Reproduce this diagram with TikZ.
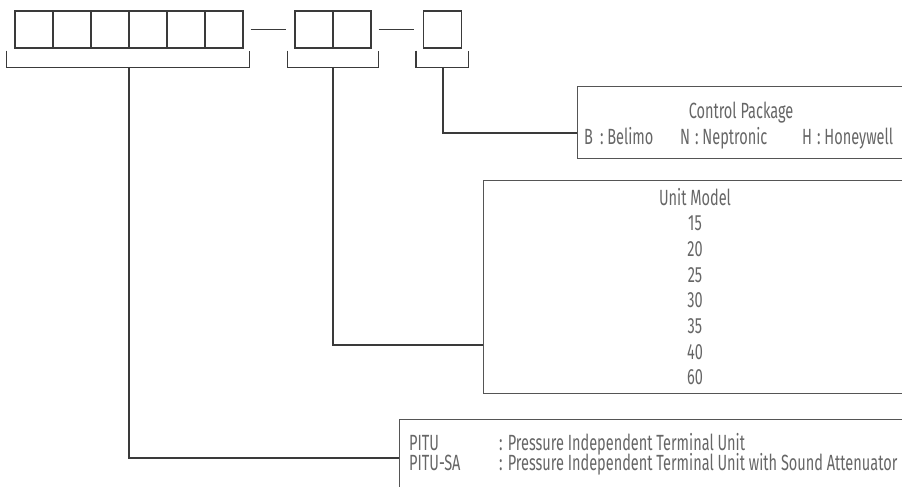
\documentclass[tikz,border=0pt]{standalone}
\usepackage{fontspec}
\setmainfont{Fira Sans}[FakeStretch=0.66]
\usetikzlibrary{calc,positioning}
\definecolor{linegray}{HTML}{3A3A3A}
\definecolor{boxgray}{HTML}{555555}
\definecolor{textgray}{HTML}{666666}

\begin{document}
\begin{tikzpicture}[x=1pt, y=-1pt,
  cell/.style={draw=linegray, line width=1.1pt, minimum width=38pt, minimum height=37pt, inner sep=0pt},
  wire/.style={draw=linegray, line width=1.1pt},
  infobox/.style={draw=boxgray, line width=1.4pt, anchor=north west, inner sep=0pt},
  txt/.style={text=textgray, font=\fontsize{22}{26}\selectfont, inner sep=0pt, anchor=base}]
\path[use as bounding box] (0,0) rectangle (902,487);
\clip (0,0) rectangle (902,487);

% code cells
\foreach \i in {1,...,6}
  \node[cell] (c\i) at ({38*\i-4},29.5) {};
\node[cell] (d1) at (314,29.5) {};
\node[cell] (d2) at (352,29.5) {};
\node[cell] (e1) at (442.5,29.5) {};

\draw[wire, shorten <=7pt, shorten >=8pt] (c6.east) -- (d1.west);
\draw[wire, shorten <=7pt, shorten >=8.5pt] (d2.east) -- (e1.west);

% brackets
\draw[wire] ($(c1.south west)+(-8,2)$) -- ++(0,17) -| ($(c6.south east)+(6,2)$);
\draw[wire] ($(d1.south west)+(-7,2)$) -- ++(0,17) -| ($(d2.south east)+(7,2)$);
\draw[wire] ($(e1.south west)+(-7,2)$) -- ++(0,17) -| ($(e1.south east)+(6,2)$);
\coordinate (s1) at (129,67);
\coordinate (s2) at (333,67);
\coordinate (s3) at (443,67);

% boxes
\node[infobox, minimum width=340pt, minimum height=72pt] (ctrl) at (577,86) {};
\node[infobox, minimum width=430pt, minimum height=213pt] (unit) at (483,180) {};
\node[infobox, minimum width=510pt, minimum height=80pt] (prod) at (399,419) {};
\coordinate (ctrlin) at (577,133);
\coordinate (unitin) at (483,345);
\coordinate (prodin) at (399,458);

\draw[wire] (s3) |- (ctrlin);
\draw[wire] (s2) |- (unitin);
\draw[wire] (s1) |- (prodin);

% control package
\node[txt] (cpt) at (741,118) {Control Package};
\node[txt, anchor=base west] (cpb) at (584,144) {B\hspace{7pt}: Belimo};
\node[txt, anchor=base west] (cpn) at (680,144) {N\hspace{5pt}: Neptronic};
\node[txt, anchor=base west] (cph) at (802,144) {H\hspace{5pt}: Honeywell};

% unit model
\node[txt] (umt) at (695,205) {Unit Model};
\foreach \m [count=\i] in {15,20,25,30,35,40,60}
  \node[txt] (um\m) at (695,{205+25.7*\i}) {\m};

% product
\node[txt, anchor=base west] (p1) at (409,450) {PITU};
\node[txt, anchor=base west] (p1d) at (499,450) {: Pressure Independent Terminal Unit};
\node[txt, anchor=base west] (p2) at (409,470) {PITU-SA};
\node[txt, anchor=base west] (p2d) at (499,470) {: Pressure Independent Terminal Unit with Sound Attenuator};
\end{tikzpicture}
\end{document}
